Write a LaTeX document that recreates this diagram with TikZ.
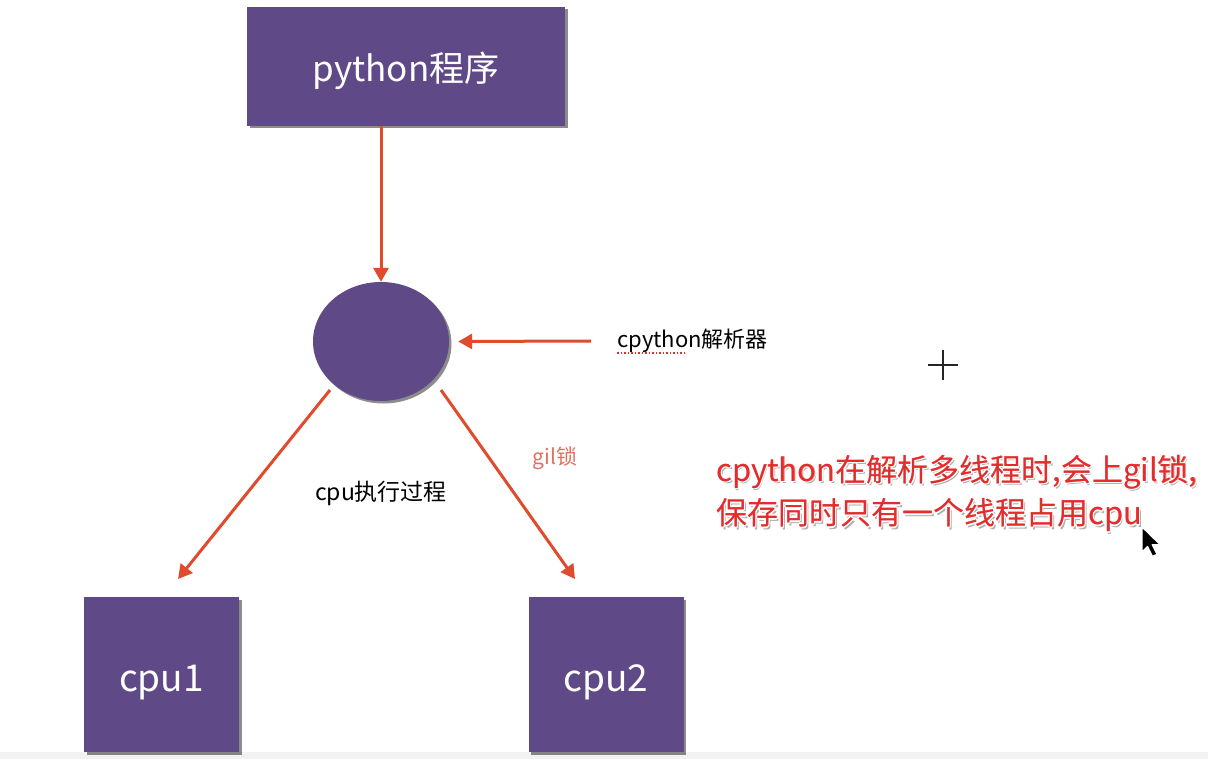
\documentclass[tikz,border=0pt]{standalone}
\usepackage{fontspec}
\setmainfont{Noto Sans CJK SC}
\usetikzlibrary{arrows.meta,shadows,shapes.geometric}
\definecolor{boxpurple}{RGB}{95,74,135}
\definecolor{arrred}{RGB}{224,75,46}
\definecolor{gilred}{RGB}{226,112,96}
\definecolor{notered}{RGB}{228,44,44}
\tikzset{
  purplebox/.style={fill=boxpurple,draw=none,text=white,inner sep=0pt,
    drop shadow={shadow xshift=2.5pt,shadow yshift=-2.5pt,fill=black,opacity=0.45}},
  conn/.style={draw=arrred,line width=3pt,-{Triangle[length=14pt,width=15pt]}},
  plain/.style={font=\fontsize{22}{26}\selectfont,inner sep=0pt},
  notetext/.style={font=\fontsize{31}{36}\selectfont,inner sep=0pt,anchor=west},
}
\newcommand{\halotxt}[3]{%
  \node[notetext,text=black!45,opacity=0.7] at ([shift={(1.8,2.6)}]#2) {#3};
  \foreach \hx/\hy in {1.7/0,-1.7/0,0/1.7,0/-1.7,1.2/1.2,-1.2/1.2,1.2/-1.2,-1.2/-1.2}{
    \node[notetext,text=white] at ([shift={(\hx,\hy)}]#2) {#3};
  }
  \node[notetext,text=notered] (#1) at (#2) {#3};
  \node[notetext,text=notered,opacity=0.6] at ([shift={(0.35,0)}]#2) {#3};
}
\begin{document}
\begin{tikzpicture}[x=1pt,y=-1pt]
\useasboundingbox (0,0) rectangle (1208,759);
\fill[white] (0,0) rectangle (1208,759);
\fill[black!5] (0,752) rectangle (1208,759);
% nodes
\node[purplebox,minimum width=318pt,minimum height=119pt,font=\fontsize{35}{40}\selectfont,text height=39pt,text depth=8pt] (prog) at (406,66.5) {python程序};
\node[purplebox,ellipse,minimum width=136pt,minimum height=119pt] (interp) at (381,341.5) {};
\node[purplebox,minimum width=155pt,minimum height=155pt,font=\fontsize{37}{42}\selectfont,text height=42pt,text depth=8pt] (cpuA) at (161.5,674.5) {cpu1};
\node[purplebox,minimum width=155pt,minimum height=155pt,font=\fontsize{37}{42}\selectfont,text height=42pt,text depth=8pt] (cpuB) at (606,674.5) {cpu2};
% labels
\node[plain,anchor=west] (lblinterp) at (617,341) {cpython解析器};
\node[plain,text=gilred,font=\fontsize{21}{25}\selectfont] (lblgil) at (555,458) {gil锁};
\node[plain,font=\fontsize{23}{27}\selectfont] (lblexec) at (381,493) {cpu执行过程};
% red dotted underline
\coordinate (ulA) at (617,353);
\coordinate (ulB) at (684,353);
\draw[notered,line width=1.3pt,dash pattern=on 1.5pt off 2pt] (ulA) -- (ulB);
% connector endpoints
\coordinate (srcinterp) at (591,341);
\coordinate (aStart) at (330,390);
\coordinate (aEnd) at (178,579);
\coordinate (bStart) at (441,390);
\coordinate (bEnd) at (575,579);
\draw[conn] (prog.south -| interp.north) -- (interp.north);
\draw[conn] (srcinterp) -- ([xshift=9pt]interp.east);
\draw[conn] (aStart) -- (aEnd);
\draw[conn] (bStart) -- (bEnd);
% plus sign
\coordinate (plusc) at (943,365);
\draw[black!85,line width=1.8pt] ([xshift=-15pt]plusc) -- ([xshift=15pt]plusc);
\draw[black!85,line width=1.8pt] ([yshift=-15pt]plusc) -- ([yshift=15pt]plusc);
% red note
\coordinate (noteApos) at (716,472);
\coordinate (noteBpos) at (716,515);
\halotxt{noteA}{noteApos}{cpython在解析多线程时,会上gil锁,}
\halotxt{noteB}{noteBpos}{保存同时只有一个线程占用cpu}
% cursor
\coordinate (cur) at (1142,527);
\filldraw[fill=black,draw=white,line width=1.2pt,line join=round]
  (cur) -- ++(0,25) -- ++(5.5,-5.5) -- ++(5,10) -- ++(4.5,-2.2) -- ++(-4.8,-9.6) -- ++(8,0) -- cycle;
\end{tikzpicture}
\end{document}
